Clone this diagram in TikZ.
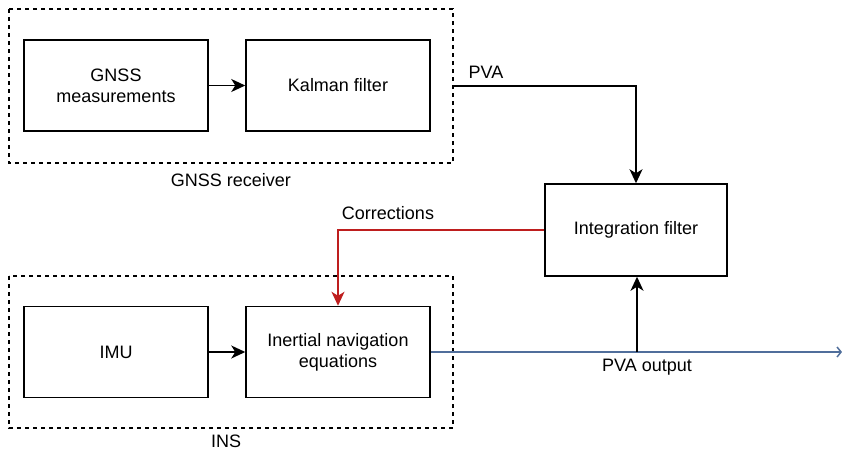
\documentclass[tikz,border=0pt]{standalone}
\usepackage{fontspec}
\setmainfont{Liberation Sans}
\usetikzlibrary{arrows.meta}
\definecolor{corrred}{RGB}{190,30,30}
\definecolor{outblue}{RGB}{80,110,155}
\begin{document}
\begin{tikzpicture}[x=1pt,y=-1pt,
  box/.style={draw, line width=1.5pt, minimum width=184pt, minimum height=91pt, align=center, font=\fontsize{18}{21}\selectfont, inner sep=0pt},
  group/.style={draw, line width=1.3pt, dash pattern=on 4pt off 4pt},
  lbl/.style={font=\fontsize{18}{21}\selectfont, inner sep=0pt},
  conn/.style={line width=1.5pt, -{Stealth[length=14pt,width=13pt,inset=4pt]}},
]
\useasboundingbox (0,0) rectangle (842,453);
% groups
\draw[group] (9,9) rectangle (453,163);
\draw[group] (9,276) rectangle (453,428);
\node[lbl] (grx) at (231,180) {GNSS receiver};
\node[lbl] (ins) at (226,441) {INS};
% boxes
\node[box] (gm) at (116,85.5) {GNSS\\measurements};
\node[box] (kf) at (338,85.5) {Kalman filter};
\node[box] (imu) at (116,352) {IMU};
\node[box] (ine) at (338,352) {Inertial navigation\\equations};
\node[box, minimum width=182pt, minimum height=92pt] (if) at (636,230) {Integration filter};
% connectors
\draw[conn] (gm) -- (kf);
\draw[conn] (imu) -- (ine);
\coordinate (pvastart) at (453,86);
\draw[conn] (pvastart) -| (if.north);
\node[lbl] (pva) at (486,72) {PVA};
\draw[conn, color=corrred] (if.west) -| (ine.north);
\node[lbl] (corr) at (388,213) {Corrections};
\coordinate (outend) at (842,352);
\coordinate (tap) at (637,352);
\draw[line width=1.5pt, color=outblue, -{Straight Barb[length=4pt,width=10pt]}] (ine.east) -- (outend);
\draw[conn] (tap) -- (tap |- if.south);
\node[lbl] (pvao) at (647,367) {PVA output};
\end{tikzpicture}
\end{document}
